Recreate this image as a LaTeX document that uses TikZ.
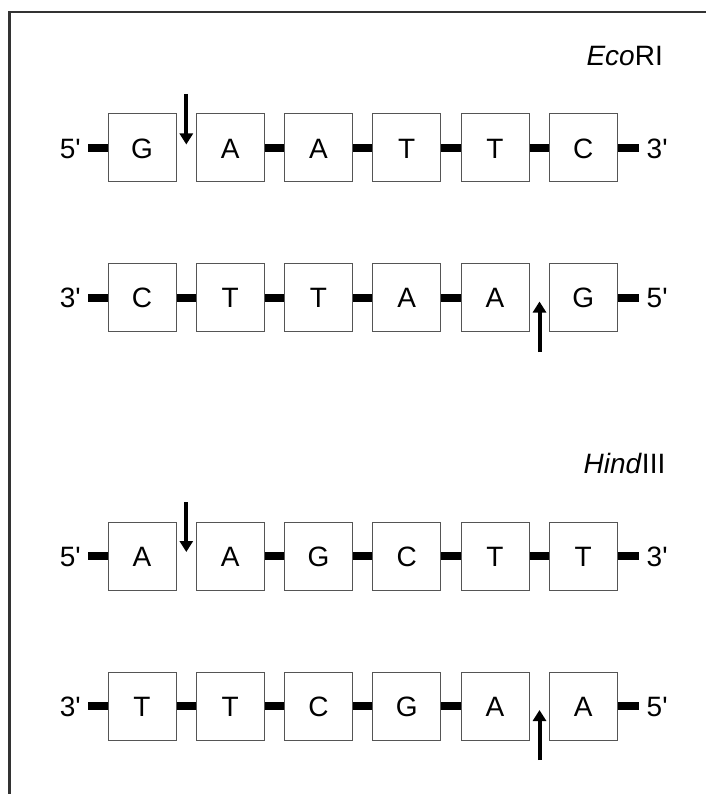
\documentclass[tikz,border=0pt]{standalone}
\usepackage{fontspec}
\setmainfont{Liberation Sans}[Ligatures=TeXOff]
\usetikzlibrary{arrows.meta}
\definecolor{framegray}{HTML}{333333}
\definecolor{boxgray}{HTML}{555555}
\tikzset{
  base/.style={font=\fontsize{28}{30}\selectfont, text height=20.05pt, text depth=0pt, inner sep=0pt},
  basebox/.style={base, draw=boxgray, line width=1pt, fill=white, minimum width=68pt, minimum height=68pt, anchor=center},
  endlabel/.style={base},
  bar/.style={line width=8pt, black},
  cut/.style={line width=4pt, black, -{Triangle[width=13pt,length=11pt]}},
  enzyme/.style={font=\fontsize{28}{30}\selectfont, inner sep=0pt, anchor=base east},
}
\begin{document}
\begin{tikzpicture}[x=1pt,y=-1pt]
\useasboundingbox (0,0) rectangle (706,794);
% frame (top and left edges visible)
\draw[framegray, line width=2.6pt] (9.5,794) -- (9.5,12) -- (706,12);
% enzyme names
\node[enzyme] (eco) at (663,65.7) {\textit{Eco}RI};
\node[enzyme] (hind) at (665.5,473.5) {\textit{Hind}III};
% rows
\foreach \r/\y/\ll/\rl/\seq in {1/148/5'/3'/{G,A,A,T,T,C}, 2/297.5/3'/5'/{C,T,T,A,A,G}, 3/556/5'/3'/{A,A,G,C,T,T}, 4/706/3'/5'/{T,T,C,G,A,A}}{
  \foreach \b [count=\i from 0] in \seq {
    \node[basebox] (r\r b\i) at ({142+88.25*\i},\y) {\b};
  }
  \node[endlabel, anchor=east] (r\r L) at (81,\y) {\ll};
  \node[endlabel, anchor=west] (r\r R) at (646.5,\y) {\rl};
  \coordinate (r\r Ls) at (88,\y);
  \coordinate (r\r Rs) at (638.5,\y);
  \draw[bar] (r\r Ls) -- (r\r b0.west);
  \draw[bar] (r\r b5.east) -- (r\r Rs);
  \draw[bar] (r\r b1.east) -- (r\r b2.west);
  \draw[bar] (r\r b2.east) -- (r\r b3.west);
  \draw[bar] (r\r b3.east) -- (r\r b4.west);
}
\draw[bar] (r2b0.east) -- (r2b1.west);
\draw[bar] (r4b0.east) -- (r4b1.west);
\draw[bar] (r1b4.east) -- (r1b5.west);
\draw[bar] (r3b4.east) -- (r3b5.west);
% cut arrows
\coordinate (c1s) at (186.3,94);   \coordinate (c1e) at (186.3,144.5);
\coordinate (c2s) at (539.5,352);  \coordinate (c2e) at (539.5,301.5);
\coordinate (c3s) at (186.3,502);  \coordinate (c3e) at (186.3,552);
\coordinate (c4s) at (539.5,760);  \coordinate (c4e) at (539.5,710);
\draw[cut] (c1s) -- (c1e);
\draw[cut] (c2s) -- (c2e);
\draw[cut] (c3s) -- (c3e);
\draw[cut] (c4s) -- (c4e);
\end{tikzpicture}
\end{document}
